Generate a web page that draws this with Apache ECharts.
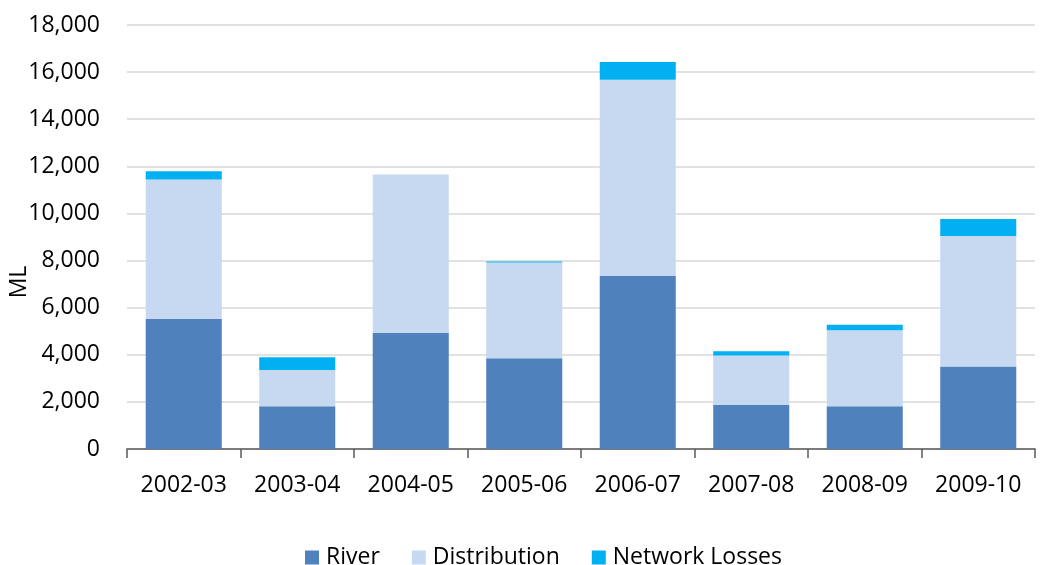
<!DOCTYPE html>
<html>
<head>
<meta charset="utf-8">
<script src="https://cdn.jsdelivr.net/npm/echarts@6/dist/echarts.min.js"></script>
<style>html,body{margin:0;padding:0;background:#fff}#c{width:1044px;height:565px}</style>
</head>
<body>
<div id="c"></div>
<script>
var categories = ['2002-03','2003-04','2004-05','2005-06','2006-07','2007-08','2008-09','2009-10'];
var river = [5520, 1820, 4930, 3850, 7360, 1870, 1820, 3500];
var distribution = [5920, 1530, 6720, 4070, 8320, 2100, 3220, 5540];
var networkLosses = [350, 550, -100, 40, 750, 180, 240, 720];
var seriesNames = ['River','Distribution','Network Losses'];
var colors = ['#4f81bd','#c6d9f1','#00b0f0'];
var FONT = 'Open Sans';

var chart = echarts.init(document.getElementById('c'), null, {renderer:'canvas'});
function mk(name, data, color){
  return {name:name, type:'bar', stack:'total', data:data, barCategoryGap:'33%',
    itemStyle:{color:color}, emphasis:{disabled:true}};
}
chart.setOption({
  animation:false,
  color: colors,
  grid:{left:127, right:9, top:25, bottom:116, containLabel:false, outerBoundsMode:'none'},
  legend:{bottom:-9, left:300, itemWidth:14, itemHeight:14, itemGap:32, icon:'rect',
    textStyle:{fontFamily:FONT, fontSize:23, color:'#000', padding:[0,0,0,2]},
    data:seriesNames},
  xAxis:{type:'category', data:categories,
    axisLine:{lineStyle:{color:'#595959', width:1.5}},
    axisTick:{show:true, length:9, alignWithLabel:false, lineStyle:{color:'#595959', width:1.5}},
    axisLabel:{fontFamily:FONT, fontSize:23, color:'#000', margin:25}},
  yAxis:{type:'value', min:0, max:18000, interval:2000, name:'ML', nameLocation:'middle', nameGap:96,
    nameMoveOverlap:false,
    nameTextStyle:{fontFamily:FONT, fontSize:23, color:'#000', padding:[0,90,0,0]},
    axisLine:{show:false}, axisTick:{show:false},
    splitLine:{lineStyle:{color:'#d9d9d9', width:1.5}},
    axisLabel:{fontFamily:FONT, fontSize:23, color:'#000', margin:27,
      formatter:function(v){return v.toLocaleString('en-US');}}},
  series:[mk(seriesNames[0], river, colors[0]), mk(seriesNames[1], distribution, colors[1]), mk(seriesNames[2], networkLosses, colors[2])]
});
</script>
</body>
</html>
